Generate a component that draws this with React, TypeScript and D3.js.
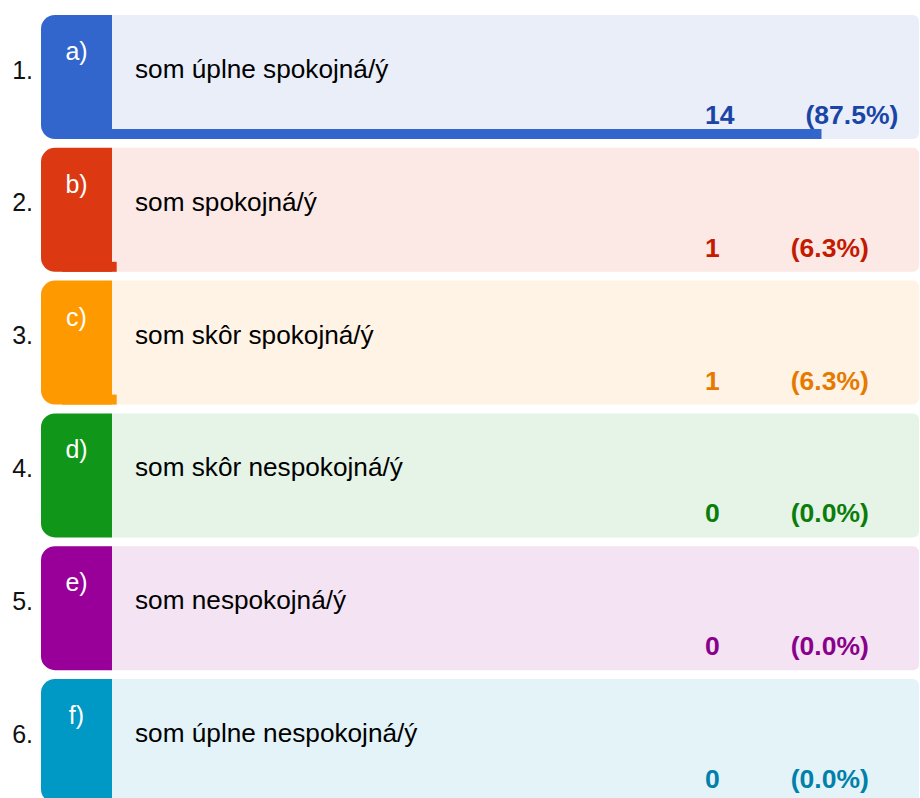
import * as d3 from "d3";
import React from "react";

const letters = ["a)", "b)", "c)", "d)", "e)", "f)"];
const labels = [
  "som úplne spokojná/ý",
  "som spokojná/ý",
  "som skôr spokojná/ý",
  "som skôr nespokojná/ý",
  "som nespokojná/ý",
  "som úplne nespokojná/ý",
];
const counts = [14, 1, 1, 0, 0, 0];
const percents = [87.5, 6.3, 6.3, 0.0, 0.0, 0.0];

const tabColors = ["#3366cc", "#dc3912", "#ff9900", "#109618", "#990099", "#0099c6"];
const bgColors = ["#e9eef9", "#fce9e6", "#fff3e6", "#e6f4e7", "#f3e3f3", "#e4f3f8"];
const textColors = ["#1a45a6", "#c41a00", "#e67a00", "#0b7d0b", "#8a008a", "#0080aa"];

const W = 920;
const H = 798;
const FONT = "'Liberation Sans', Arial, sans-serif";

// card geometry
const cardLeft = 41;
const tabRight = 112;
const cardRight = 919;
const cardH = 124;
const barH = 10;

function tabPath(x0, x1, y0, h, r) {
  const p = d3.path();
  p.moveTo(x1, y0);
  p.lineTo(x0 + r, y0);
  p.arcTo(x0, y0, x0, y0 + r, r);
  p.lineTo(x0, y0 + h - r);
  p.arcTo(x0, y0 + h, x0 + r, y0 + h, r);
  p.lineTo(x1, y0 + h);
  p.closePath();
  return p.toString();
}

export default function App() {
  const yScale = d3.scaleLinear().domain([0, 1]).range([15, 147.8]);
  const xScale = d3.scaleLinear().domain([0, 100]).range([62, 930]);

  return (
    <svg
      width={W}
      height={H}
      style={{ position: "absolute", left: 0, top: 0, background: "#fff" }}
      fontFamily={FONT}
    >
      {labels.map((label, i) => {
        const top = yScale(i);
        const barW = xScale(percents[i]) - xScale(0);
        return (
          <g key={label}>
            <text x={33} y={top + 63.5} fontSize={25} textAnchor="end" fill="#111">
              {i + 1 + "."}
            </text>
            <rect
              x={tabRight - 10}
              y={top}
              width={cardRight - tabRight + 10}
              height={cardH}
              rx={6}
              fill={bgColors[i]}
            />
            {counts[i] > 0 && (
              <rect
                x={xScale(0)}
                y={top + cardH - barH}
                width={barW}
                height={barH}
                fill={tabColors[i]}
              />
            )}
            <path d={tabPath(cardLeft, tabRight, top, cardH, 14)} fill={tabColors[i]} />
            <text
              x={(cardLeft + tabRight) / 2}
              y={top + 45}
              fontSize={25}
              textAnchor="middle"
              fill="#fff"
            >
              {letters[i]}
            </text>
            <text x={135} y={top + 63} fontSize={26.2} fill="#000">
              {label}
            </text>
            <text x={705} y={top + 109} fontSize={26.5} fontWeight="bold" fill={textColors[i]}>
              <tspan>{counts[i]}</tspan>
              <tspan dx={71}>{"(" + percents[i].toFixed(1) + "%)"}</tspan>
            </text>
          </g>
        );
      })}
    </svg>
  );
}
